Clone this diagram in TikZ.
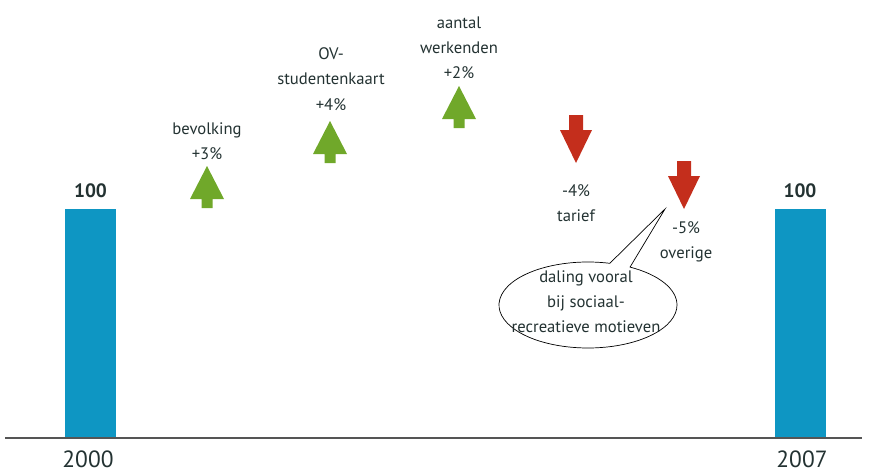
\documentclass[tikz,border=0pt]{standalone}
\usepackage{fontspec}
\setmainfont{PT Sans}
\usepackage{xcolor}
\usepackage{tikz}
\usetikzlibrary{shapes.callouts}

\definecolor{barblue}{RGB}{14,150,195}
\definecolor{upgreen}{RGB}{112,168,42}
\definecolor{downred}{RGB}{196,46,28}
\definecolor{inkgray}{RGB}{35,50,50}
\definecolor{axisgray}{RGB}{85,85,85}

\begin{document}
\begin{tikzpicture}[x=0.03cm, y=-0.03cm,
    lbl/.style={align=center, text=inkgray, font=\fontsize{14.2}{21.5}\selectfont, inner sep=0pt},
    total/.style={text=inkgray, font=\fontsize{16.5}{18}\selectfont\bfseries, inner sep=0pt, anchor=base},
    year/.style={text=inkgray, font=\fontsize{20}{24}\selectfont, inner sep=0pt, anchor=base},
    bar/.style={fill=barblue, minimum width=1.53cm, minimum height=6.87cm, inner sep=0pt, anchor=south},
    rise/.pic={\fill[upgreen] (0,0) -- (17,33) -- (5.5,33) -- (5.5,42) -- (-5.5,42) -- (-5.5,33) -- (-17,33) -- cycle;},
    drop/.pic={\fill[downred] (0,0) -- (16,-33) -- (7,-33) -- (7,-48) -- (-7,-48) -- (-7,-33) -- (-16,-33) -- cycle;}]
    \useasboundingbox (0,0) rectangle (869,473);

    % bars at both ends
    \node[bar] (b2000) at (90.5,438) {};
    \node[bar] (b2007) at (800,438) {};
    \node[total] (t2000) at ([yshift=0.33cm]b2000.north) {100};
    \node[total] (t2007) at ([yshift=0.33cm]b2007.north) {100};
    \draw[axisgray, line width=1.2pt] (5,438) -- (862,438);
    \node[year] (y2000) at (88,467) {2000};
    \node[year] (y2007) at (802,467) {2007};

    % effects
    \node[lbl] (bevolking) at (207,141) {bevolking\\+3\%};
    \node[lbl] (studenten) at (331,79) {OV-\\studentenkaart\\+4\%};
    \node[lbl] (werkenden) at (459,47.5) {aantal\\werkenden\\+2\%};
    \node[lbl] (tarief) at (576,203) {-4\%\\tarief};
    \node[lbl] (overige) at (686,242) {-5\%\\overige};

    \pic at (207,166) {rise};
    \pic at (330,121) {rise};
    \pic at (459,86) {rise};
    \pic at (576,163) {drop};
    \pic at (684,209) {drop};

    % remark
    \coordinate (tip) at (665,209);
    \node[ellipse callout, draw=black, line width=0.6pt, fill=white, minimum width=5.34cm, minimum height=2.58cm, inner sep=0pt, callout absolute pointer={(tip)}, callout pointer arc=14] (bubble) at (588,305) {};
    \node[lbl] (motief) at (586,302) {daling vooral\\bij sociaal-\\recreatieve motieven};
\end{tikzpicture}
\end{document}
